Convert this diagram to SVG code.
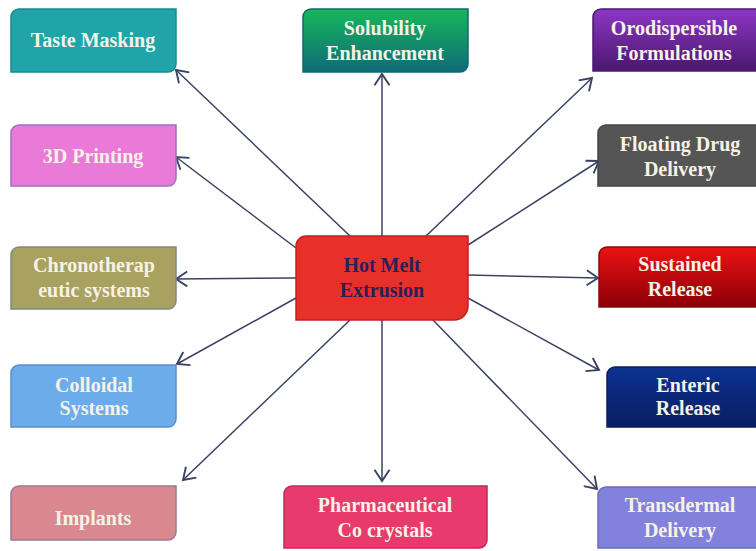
<svg xmlns="http://www.w3.org/2000/svg" width="756" height="551" viewBox="0 0 756 551">
<defs>
<linearGradient id="gSol" x1="0" y1="0" x2="0" y2="1"><stop offset="0" stop-color="#16b85a"/><stop offset="1" stop-color="#106a78"/></linearGradient>
<linearGradient id="gOro" x1="0" y1="0" x2="0" y2="1"><stop offset="0" stop-color="#8c36c4"/><stop offset="1" stop-color="#4a176e"/></linearGradient>
<linearGradient id="gSus" x1="0" y1="0" x2="0" y2="1"><stop offset="0" stop-color="#ec1212"/><stop offset="1" stop-color="#8a0008"/></linearGradient>
<linearGradient id="gEnt" x1="0" y1="0" x2="0" y2="1"><stop offset="0" stop-color="#0c3290"/><stop offset="1" stop-color="#081e62"/></linearGradient>
<marker id="arr" markerUnits="userSpaceOnUse" markerWidth="20" markerHeight="20" viewBox="-12 -8 14 16" refX="0" refY="0" orient="auto">
<path d="M-9,-6 L0,0 L-9,6" fill="none" stroke="#3a4262" stroke-width="1.5"/>
</marker>
</defs>
<style>
.lbl{font-family:"Liberation Serif","Times New Roman",serif;font-weight:bold;font-size:20px;fill:#f6f2e6;text-anchor:middle}
.ctr{font-family:"Liberation Serif","Times New Roman",serif;font-weight:bold;font-size:20px;fill:#2b1e5a;text-anchor:middle}
.box{stroke-width:1.5}
#conn line{stroke:#3a4262;stroke-width:1.5;marker-end:url(#arr)}
</style>
<rect width="756" height="551" fill="#ffffff"/>
<g id="conn">
<line x1="350" y1="236" x2="176" y2="70"/>
<line x1="296" y1="248" x2="176" y2="157"/>
<line x1="296" y1="278" x2="176" y2="279"/>
<line x1="296" y1="298" x2="177" y2="364"/>
<line x1="350" y1="320" x2="183" y2="480"/>
<line x1="382" y1="320" x2="382" y2="481"/>
<line x1="433" y1="320" x2="597" y2="489"/>
<line x1="468" y1="298" x2="599" y2="370"/>
<line x1="468" y1="275" x2="598" y2="278"/>
<line x1="468" y1="245" x2="599" y2="161"/>
<line x1="426" y1="236" x2="592" y2="78"/>
<line x1="382" y1="236" x2="382" y2="74"/>
</g>
<g id="hme">
<path class="box" d="M306,236 H468 V306 A14,14 0 0 1 454,320 H296 V246 A10,10 0 0 1 306,236 Z" fill="#e8302a" stroke="#c02020"/>
<text class="ctr" x="382" y="272">Hot Melt</text>
<text class="ctr" x="382" y="297">Extrusion</text>
</g>
<g id="taste">
<path class="box" d="M19,9 H176 V64 A8,8 0 0 1 168,72 H11 V17 A8,8 0 0 1 19,9 Z" fill="#20a4aa" stroke="#1a8a90"/>
<text class="lbl" x="93" y="47">Taste Masking</text>
</g>
<g id="print3d">
<path class="box" d="M19,125 H176 V178 A8,8 0 0 1 168,186 H11 V133 A8,8 0 0 1 19,125 Z" fill="#ea7ad8" stroke="#9a70c0"/>
<text class="lbl" x="93" y="163">3D Printing</text>
</g>
<g id="chrono">
<path class="box" d="M19,247 H176 V301 A8,8 0 0 1 168,309 H11 V255 A8,8 0 0 1 19,247 Z" fill="#a9a160" stroke="#7e8a86"/>
<text class="lbl" x="94" y="272">Chronotherap</text>
<text class="lbl" x="94" y="297">eutic systems</text>
</g>
<g id="colloid">
<path class="box" d="M19,365 H176 V419 A8,8 0 0 1 168,427 H11 V373 A8,8 0 0 1 19,365 Z" fill="#6cacea" stroke="#5a90c8"/>
<text class="lbl" x="94" y="392">Colloidal</text>
<text class="lbl" x="94" y="415">Systems</text>
</g>
<g id="implants">
<path class="box" d="M19,486 H176 V532 A8,8 0 0 1 168,540 H11 V494 A8,8 0 0 1 19,486 Z" fill="#d98890" stroke="#9a7a98"/>
<text class="lbl" x="93" y="525">Implants</text>
</g>
<g id="solub">
<path class="box" d="M311,9 H468 V64 A8,8 0 0 1 460,72 H303 V17 A8,8 0 0 1 311,9 Z" fill="url(#gSol)" stroke="#0f6a70"/>
<text class="lbl" x="385" y="35">Solubility</text>
<text class="lbl" x="385" y="60">Enhancement</text>
</g>
<g id="pharma">
<path class="box" d="M292,486 H487 V540 A8,8 0 0 1 479,548 H284 V494 A8,8 0 0 1 292,486 Z" fill="#e83a6c" stroke="#c02a5a"/>
<text class="lbl" x="385" y="512">Pharmaceutical</text>
<text class="lbl" x="385" y="537">Co crystals</text>
</g>
<g id="orodisp">
<path class="box" d="M601,9 H762 V71 H593 V17 A8,8 0 0 1 601,9 Z" fill="url(#gOro)" stroke="#4a1a70"/>
<text class="lbl" x="674" y="35">Orodispersible</text>
<text class="lbl" x="674" y="60">Formulations</text>
</g>
<g id="floating">
<path class="box" d="M606,125 H762 V186 H598 V133 A8,8 0 0 1 606,125 Z" fill="#555555" stroke="#444444"/>
<text class="lbl" x="680" y="151">Floating Drug</text>
<text class="lbl" x="680" y="176">Delivery</text>
</g>
<g id="sustained">
<path class="box" d="M607,247 H762 V307 H599 V255 A8,8 0 0 1 607,247 Z" fill="url(#gSus)" stroke="#8a0a10"/>
<text class="lbl" x="680" y="271">Sustained</text>
<text class="lbl" x="680" y="296">Release</text>
</g>
<g id="enteric">
<path class="box" d="M615,367 H762 V427 H607 V375 A8,8 0 0 1 615,367 Z" fill="url(#gEnt)" stroke="#0a1e5a"/>
<text class="lbl" x="688" y="392">Enteric</text>
<text class="lbl" x="688" y="415">Release</text>
</g>
<g id="transderm">
<path class="box" d="M606,487 H762 V548 H598 V495 A8,8 0 0 1 606,487 Z" fill="#8282dc" stroke="#6a6ac0"/>
<text class="lbl" x="680" y="512">Transdermal</text>
<text class="lbl" x="680" y="537">Delivery</text>
</g>
</svg>
